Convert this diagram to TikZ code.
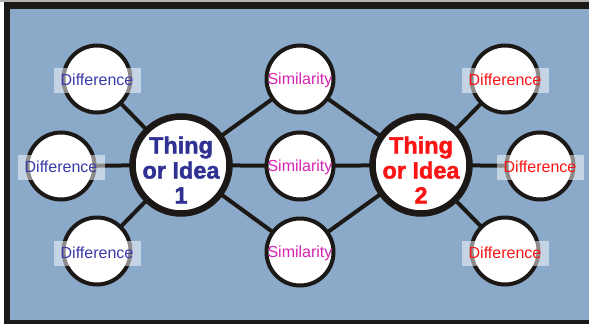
\documentclass[tikz,border=0pt]{standalone}
\usepackage{fontspec}
\setmainfont{Liberation Sans}
\newfontfamily\heavyfont{Liberation Sans Bold}[FakeBold=1.6]
\usetikzlibrary{backgrounds}
\definecolor{bgblue}{RGB}{139,170,201}
\definecolor{diffblue}{RGB}{58,58,170}
\definecolor{bigblue}{RGB}{46,49,146}
\definecolor{simmag}{RGB}{214,36,176}
\definecolor{redtxt}{RGB}{250,20,20}
\definecolor{frame}{RGB}{28,24,22}
\tikzset{
  small/.style={circle,draw=frame,line width=4pt,fill=white,minimum size=67pt,inner sep=0pt},
  big/.style={circle,draw=frame,line width=6.5pt,fill=white,minimum size=97pt,inner sep=0pt,
     font=\fontsize{23.5}{25}\selectfont\heavyfont,align=center},
  difflabel/.style={fill=white,fill opacity=0.5,text opacity=1,minimum width=87pt,minimum height=25pt,
     inner sep=0pt,font=\fontsize{16}{17}\selectfont},
  simlabel/.style={inner sep=0pt,font=\fontsize{16}{17}\selectfont,text=simmag},
  link/.style={draw=frame,line width=4pt},
}
\begin{document}
\begin{tikzpicture}[x=1pt,y=-1pt]
\useasboundingbox (0,0) rectangle (589,324);
% circles
\node[small] (dl1) at (97,79) {};
\node[small] (dl2) at (61,166) {};
\node[small] (dl3) at (97,251) {};
\node[small] (s1) at (300,79) {};
\node[small] (s2) at (300,166) {};
\node[small] (s3) at (300,252) {};
\node[small] (dr1) at (505,79) {};
\node[small] (dr2) at (540,166) {};
\node[small] (dr3) at (505,251) {};
\node[big,text=bigblue] (b1) at (181,165) {};
\node[big,text=redtxt] (b2) at (421,165) {};
\node[font=\fontsize{23.5}{25}\selectfont\heavyfont,align=center,text=bigblue,inner sep=0pt] (t1) at (181,170) {Thing\\or Idea\\1};
\node[font=\fontsize{23.5}{25}\selectfont\heavyfont,align=center,text=redtxt,inner sep=0pt] (t2) at (421,170) {Thing\\or Idea\\2};
% labels
\node[difflabel,text=diffblue] (ldl1) at (97,80) {Difference};
\node[difflabel,text=diffblue] (ldl2) at (61,167) {Difference};
\node[difflabel,text=diffblue] (ldl3) at (97,253) {Difference};
\node[simlabel] (ls1) at (300,80) {Similarity};
\node[simlabel] (ls2) at (300,167) {Similarity};
\node[simlabel] (ls3) at (300,253) {Similarity};
\node[difflabel,text=redtxt] (ldr1) at (505,80) {Difference};
\node[difflabel,text=redtxt] (ldr2) at (540,167) {Difference};
\node[difflabel,text=redtxt] (ldr3) at (505,253) {Difference};
\begin{scope}[on background layer]
  \fill[white] (0,0) rectangle (589,324);
  \fill[gray!60] (0,0) rectangle (589,2);
  \fill[frame] (4,2) rectangle (589,324);
  \fill[bgblue] (10,9) rectangle (589,320);
  \draw[link] (b1.center) -- (dl1.center);
  \draw[link] (b1.center) -- (dl2.center);
  \draw[link] (b1.center) -- (dl3.center);
  \draw[link] (b1.center) -- (s1.center);
  \draw[link] (b1.center) -- (s2.center);
  \draw[link] (b1.center) -- (s3.center);
  \draw[link] (b2.center) -- (s1.center);
  \draw[link] (b2.center) -- (s2.center);
  \draw[link] (b2.center) -- (s3.center);
  \draw[link] (b2.center) -- (dr1.center);
  \draw[link] (b2.center) -- (dr2.center);
  \draw[link] (b2.center) -- (dr3.center);
\end{scope}
\end{tikzpicture}
\end{document}
